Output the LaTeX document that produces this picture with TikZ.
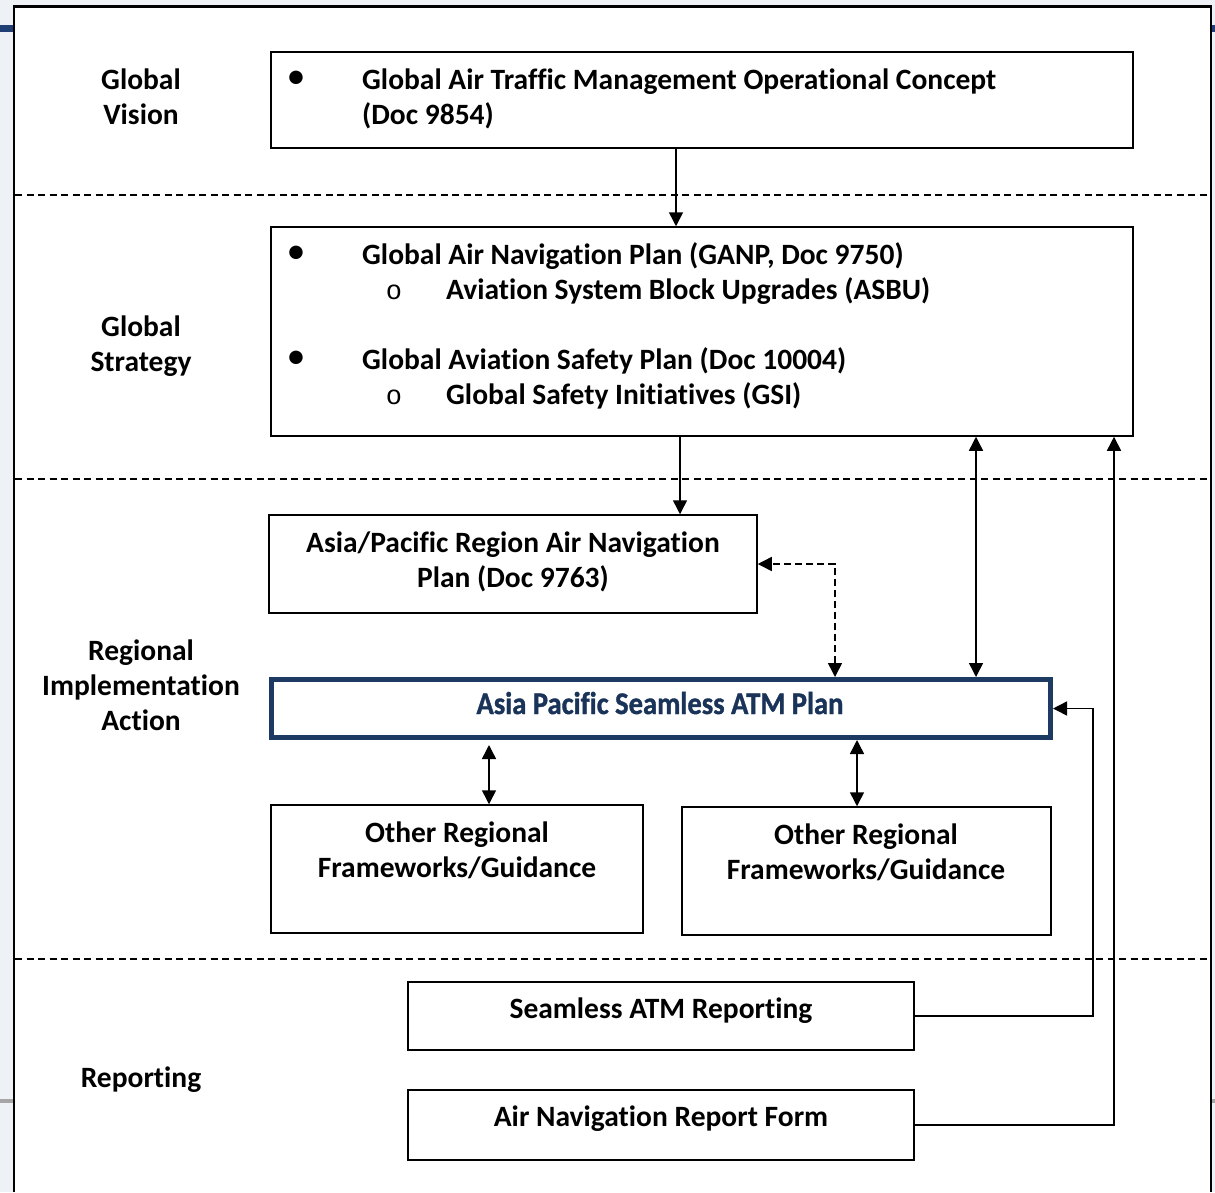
\documentclass[tikz,border=0pt]{standalone}
\usepackage{fontspec}
\usepackage{graphicx}
\setmainfont{Carlito}[Ligatures=NoCommon]
\newfontfamily\monof{Liberation Mono}
\newfontfamily\atmf{Carlito}[UprightFont={* Bold}, Ligatures=NoCommon, FakeBold=1.2]
\usetikzlibrary{arrows.meta}
\definecolor{navy}{HTML}{1D3A63}
\definecolor{atmtext}{HTML}{1A3358}
\definecolor{barblue}{HTML}{1F3F75}
\definecolor{bggray}{HTML}{EEF1F5}
\begin{document}
\begin{tikzpicture}[x=1pt,y=-1pt,
  box/.style={draw, line width=1.5pt, inner sep=0pt},
  lbl/.style={font=\fontsize{29.5}{35}\selectfont\bfseries, inner sep=0pt},
  ltxt/.style={lbl, anchor=base west},
  ctxt/.style={lbl, anchor=base, align=center},
  bul/.style={font=\fontsize{38}{38}\selectfont, inner sep=0pt, anchor=center},
  sub/.style={font=\fontsize{27}{27}\selectfont\monof, inner sep=0pt, anchor=base},
  arr/.style={line width=1.5pt, -{Triangle[length=14pt,width=14pt]}},
  darr/.style={line width=1.5pt, {Triangle[length=14pt,width=14pt]}-{Triangle[length=14pt,width=14pt]}},
  sep/.style={line width=1.3pt, dash pattern=on 7pt off 4.5pt}
]
\useasboundingbox (0,0) rectangle (1215,1192);
% page background and frame
\fill[bggray] (0,0) rectangle (1215,1192);
\fill[barblue] (0,25) rectangle (13,32);
\fill[barblue] (1212,25) rectangle (1215,32);
\fill[gray!70] (0,1099) rectangle (13,1103);
\fill[gray!70] (1212,1099) rectangle (1215,1103);
\fill[white] (14,6.5) rectangle (1211,1192);
\draw[line width=2.2pt] (14,1192) -- (14,6.5) -- (1211,6.5) -- (1211,1192);

% separators
\draw[sep] (15,195) -- (1210,195);
\draw[sep] (15,479) -- (1210,479);
\draw[sep] (15,959) -- (1210,959);

% left labels (base = baseline of last line)
\node[ctxt] (lvision) at (141,124) {Global\\Vision};
\node[ctxt] (lstrategy) at (141,371) {Global\\Strategy};
\node[ctxt] (lregional) at (141,730) {Regional\\Implementation\\Action};
\node[ctxt] (lreport) at (141,1087) {Reporting};

% boxes
\node[box, minimum width=862pt, minimum height=96pt] (vision) at (702,100) {};
\node[box, minimum width=862pt, minimum height=209pt] (strategy) at (702,331.5) {};
\node[box, minimum width=488pt, minimum height=98pt] (anp) at (513,564) {};
\node[draw=navy, line width=5pt, inner sep=0pt, minimum width=779pt, minimum height=58pt] (atm) at (661,708.5) {};
\node[box, minimum width=372pt, minimum height=128pt] (other1) at (457,869) {};
\node[box, minimum width=369pt, minimum height=128pt] (other2) at (866.5,871) {};
\node[box, minimum width=506pt, minimum height=68pt] (report) at (661,1016) {};
\node[box, minimum width=506pt, minimum height=70pt] (anrf) at (661,1125) {};

% box texts
\node[bul] (b1) at (296,80) {•};
\node[ltxt] (t1) at (362,89) {Global Air Traffic Management Operational Concept};
\node[ltxt] (t1b) at (362,124) {(Doc 9854)};

\node[bul] (b2) at (296,255) {•};
\node[ltxt] (t2) at (362,264) {Global Air Navigation Plan (GANP, Doc 9750)};
\node[sub] (s2) at (394,299) {o};
\node[ltxt] (t2b) at (446,299) {Aviation System Block Upgrades (ASBU)};
\node[bul] (b3) at (296,360) {•};
\node[ltxt] (t3) at (362,369) {Global Aviation Safety Plan (Doc 10004)};
\node[sub] (s3) at (394,404) {o};
\node[ltxt] (t3b) at (446,404) {Global Safety Initiatives (GSI)};

\node[ctxt] (tanp) at (513,587) {Asia/Pacific Region Air Navigation\\Plan (Doc 9763)};
\node[inner sep=0pt, text=atmtext, anchor=base] (tatm) at (660,714) {\resizebox{367pt}{\height}{\fontsize{31.5}{31.5}\selectfont\atmf Asia Pacific Seamless ATM Plan}};
\node[ctxt] (to1) at (457,877) {Other Regional\\Frameworks/Guidance};
\node[ctxt] (to2) at (866,879) {Other Regional\\Frameworks/Guidance};
\node[ctxt] (trep) at (661,1018) {Seamless ATM Reporting};
\node[ctxt] (tanrf) at (661,1126) {Air Navigation Report Form};

% helper coordinates
\coordinate (x676) at (676,0);
\coordinate (x680) at (680,0);
\coordinate (x835) at (835,0);
\coordinate (x976) at (976,0);
\coordinate (x489) at (489,0);
\coordinate (x857) at (857,0);
\coordinate (x1093) at (1093,0);
\coordinate (x1114) at (1114,0);

% connectors
\draw[arr] (x676 |- vision.south) -- (x676 |- strategy.north);
\draw[arr] (x680 |- strategy.south) -- (x680 |- anp.north);
\draw[darr, dash pattern=on 7pt off 4pt] (x835 |- atm.north) |- (anp.east);
\draw[darr] (x976 |- strategy.south) -- (x976 |- atm.north);
\draw[darr, shorten <=5pt] (x489 |- atm.south) -- (x489 |- other1.north);
\draw[darr] (x857 |- atm.south) -- (x857 |- other2.north);
\draw[arr] (report.east) -- (x1093 |- report.east) -- (x1093 |- atm.east) -- (atm.east);
\draw[arr] (anrf.east) -| (x1114 |- strategy.south);
\end{tikzpicture}
\end{document}
